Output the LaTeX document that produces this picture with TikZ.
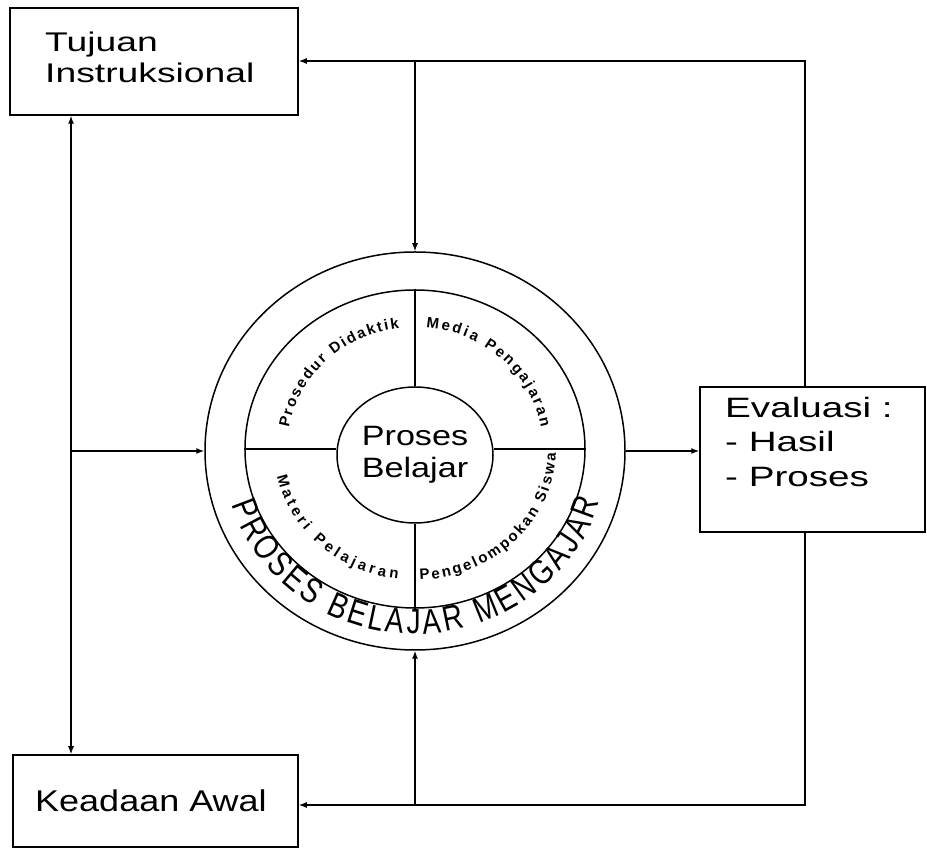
\documentclass[tikz,border=0pt]{standalone}
\usepackage{fontspec}
\setmainfont{Liberation Sans}
\newfontfamily\boxfontA[FakeStretch=1.38]{Liberation Sans}
\newfontfamily\boxfontK[FakeStretch=1.2]{Liberation Sans}
\newfontfamily\centerfont[FakeStretch=1.22]{Liberation Sans}
\newfontfamily\ringfont[FakeStretch=0.8]{Liberation Sans}
\newfontfamily\quadfont{Liberation Sans}
\usetikzlibrary{arrows.meta,shapes.geometric,decorations.text}
\begin{document}
\begin{tikzpicture}[x=1pt,y=1pt,
  box/.style={draw,line width=1.5pt,rectangle,inner sep=0pt},
  conn/.style={line width=1.4pt},
  arr/.style={conn,-{Latex[length=8pt,width=6pt]}},
  dblarr/.style={conn,{Latex[length=8pt,width=6pt]}-{Latex[length=8pt,width=6pt]}},
  ringshape/.style={draw,line width=1.5pt,ellipse,inner sep=0pt},
  txtA/.style={anchor=base west,inner sep=0pt,font=\boxfontA\fontsize{27}{30}\selectfont},
  txtK/.style={anchor=base west,inner sep=0pt,font=\boxfontK\fontsize{30}{33}\selectfont},
  quadtext/.style={decorate,decoration={text along path,text align=fit to path,
     text={|\quadfont\bfseries\fontsize{15}{15}\selectfont|#1}}},
  bigtext/.style={decorate,decoration={text along path,text align=fit to path,
     text={|\ringfont\fontsize{35}{35}\selectfont|#1}}}]
\useasboundingbox (0,0) rectangle (927,848);

% boxes
\node[box,minimum width=288,minimum height=107] (tujuan) at (154,786.5) {};
\node[txtA] (tujuan1) at (45,796) {Tujuan};
\node[txtA] (tujuan2) at (45,765) {Instruksional};

\node[box,minimum width=225,minimum height=145] (evaluasi) at (812.5,388.5) {};
\node[txtA,font=\boxfontA\fontsize{28}{30}\selectfont] (eval1) at (725,430) {Evaluasi :};
\node[txtA,font=\boxfontA\fontsize{28}{30}\selectfont] (eval2) at (725,396) {- Hasil};
\node[txtA,font=\boxfontA\fontsize{28}{30}\selectfont] (eval3) at (725,361) {- Proses};

\node[box,minimum width=285,minimum height=92] (keadaan) at (155.5,47) {};
\node[txtK] (keadaan1) at (35,36) {Keadaan Awal};

% circles
\node[ringshape,minimum width=420,minimum height=398] (outer) at (415,397) {};
\node[ringshape,minimum width=340,minimum height=318] (ring) at (415,399) {};
\node[ringshape,minimum width=156,minimum height=136,align=center,
      font=\centerfont\fontsize{28}{32}\selectfont] (center) at (415,393) {Proses\\Belajar};

% quadrant dividers
\draw[conn] (ring.west) -- (ring.west -| center.west);
\draw[conn] (ring.east) -- (ring.east -| center.east);
\draw[conn] (ring.north) -- (center.north);
\draw[conn] (center.south) -- (ring.south);

% curved texts
\path[quadtext={Prosedur Didaktik}] (ring.center) ++(170:128 and 122)
   arc[start angle=170,end angle=97,x radius=128,y radius=122];
\path[quadtext={Media Pengajaran}] (ring.center) ++(85:128 and 122)
   arc[start angle=85,end angle=10,x radius=128,y radius=122];
\path[quadtext={Materi Pelajaran}] (ring.center) ++(192:141 and 131)
   arc[start angle=192,end angle=263,x radius=141,y radius=131];
\path[quadtext={Pengelompokan Siswa}] (ring.center) ++(272:141 and 131)
   arc[start angle=272,end angle=358,x radius=141,y radius=131];
\path[bigtext={PROSES BELAJAR MENGAJAR}] (outer.center) ++(197:192 and 183)
   arc[start angle=197,end angle=344,x radius=192,y radius=183];

% connectors
\coordinate (tr) at (805,787);
\coordinate (br) at (805,43);
\coordinate (lx) at (71,397);
\draw[arr] (evaluasi.north -| tr) -- (tr) -- (tujuan.east |- tr);
\draw[arr] (outer.north |- tr) -- (outer.north);
\draw[arr] (evaluasi.south -| tr) -- (br) -- (keadaan.east |- br);
\draw[arr] (outer.south |- br) -- (outer.south);
\draw[dblarr] (tujuan.south -| lx) -- (keadaan.north -| lx);
\draw[arr] (lx) -- (outer.west);
\draw[arr] (outer.east) -- (outer.east -| evaluasi.west);
\end{tikzpicture}
\end{document}
